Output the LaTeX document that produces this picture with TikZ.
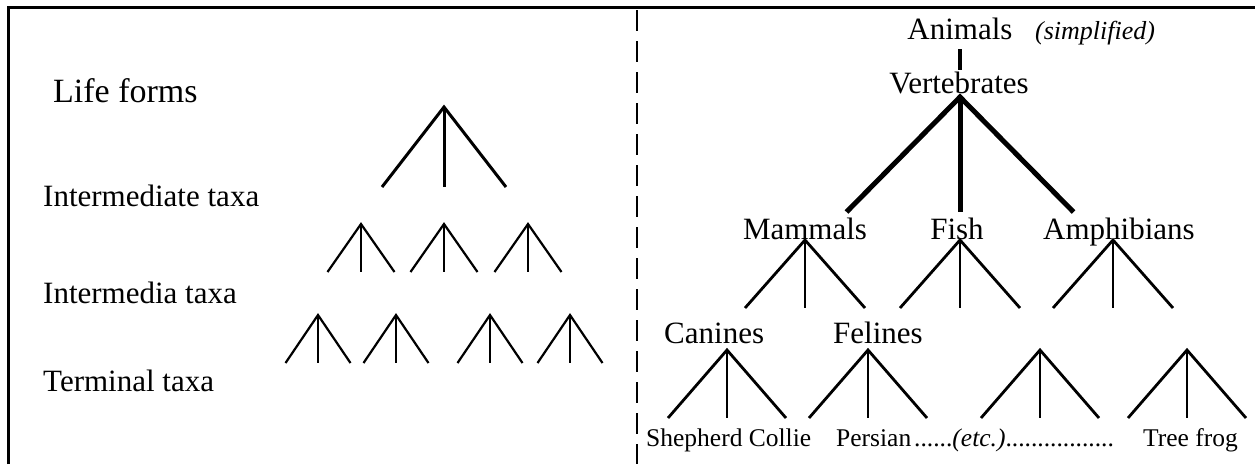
\documentclass[tikz,border=0pt]{standalone}
\usepackage{fontspec}
\setmainfont{Liberation Serif}

% A three-pronged branch: legs from an apex down to two feet, plus a stem.
% #1 name, #2 apex x, #3 apex y, #4 half width, #5 height, #6 leg style, #7 stem style
\newcommand\taxtree[7]{%
  \coordinate (#1-a) at (#2,#3);
  \coordinate (#1-l) at ({#2-#4},{#3+#5});
  \coordinate (#1-m) at (#2,{#3+#5});
  \coordinate (#1-r) at ({#2+#4},{#3+#5});
  \draw[#6] (#1-l) -- (#1-a) -- (#1-r);
  \draw[#7] (#1-a) -- (#1-m);
}

\begin{document}
\begin{tikzpicture}[x=1pt,y=-1pt,
  lbl/.style={inner sep=0pt, anchor=base west, font=\fontsize{31}{31}\selectfont},
  clbl/.style={lbl, anchor=base},
  big/.style={lbl, font=\fontsize{34}{34}\selectfont},
  small/.style={lbl, font=\fontsize{25.5}{25.5}\selectfont},
  legA/.style={line width=3pt},
  legB/.style={line width=2.2pt},
  stemB/.style={line width=1.3pt},
  legC/.style={line width=2.8pt},
  stemC/.style={line width=1.8pt},
  thick/.style={line width=5pt},
]
\useasboundingbox (0,0) rectangle (1255,464);

% frame and divider
\draw[line width=3pt] (8,464) -- (8,7) -- (1255,7);
\draw[line width=2.4pt, dash pattern=on 21pt off 10pt] (637,10) -- (637,464);

% ---- left: generic scheme ----
\node[big] (life) at (53,102) {Life forms};
\node[lbl] (inter) at (43,206) {Intermediate taxa};
\node[lbl] (interm) at (43,303) {Intermedia taxa};
\node[lbl] (term) at (43,391) {Terminal taxa};

\taxtree{top}{444}{107}{62}{80}{legA}{legA}
\taxtree{ia}{361}{224}{33.5}{48}{legB}{stemB}
\taxtree{ib}{444}{224}{33.5}{48}{legB}{stemB}
\taxtree{ic}{528}{224}{33.5}{48}{legB}{stemB}
\taxtree{ta}{318}{315}{32.5}{48}{legB}{stemB}
\taxtree{tb}{396}{315}{32.5}{48}{legB}{stemB}
\taxtree{tc}{490}{315}{32.5}{48}{legB}{stemB}
\taxtree{td}{570}{315}{32.5}{48}{legB}{stemB}

% ---- right: animal example ----
\node[clbl] (animals) at (960,39) {Animals};
\node[lbl, font=\fontsize{26}{26}\selectfont\itshape] (simpl) at (1035,39) {(simplified)};
\node[clbl] (vert) at (959,93) {Vertebrates};
\coordinate (av-top) at (960,49);
\coordinate (av-bot) at (960,70);
\draw[line width=4.5pt] (av-top) -- (av-bot);

\taxtree{vt}{960}{97}{113.5}{115}{thick}{thick}

\node[clbl] (mamm) at (805,239) {Mammals};
\node[clbl] (fish) at (957,239) {Fish};
\node[clbl] (amph) at (1119,239) {Amphibians};

\taxtree{ma}{805}{240}{60}{68}{legC}{stemC}
\taxtree{fi}{960}{240}{60}{68}{legC}{stemC}
\taxtree{am}{1113}{240}{60}{68}{legC}{stemC}

\node[lbl] (canines) at (664,343) {Canines};
\node[lbl] (felines) at (833,343) {Felines};

\taxtree{ca}{727}{350}{59}{68}{legC}{stemC}
\taxtree{fe}{868}{350}{59}{68}{legC}{stemC}
\taxtree{xa}{1040}{350}{59}{68}{legC}{stemC}
\taxtree{xb}{1187}{350}{59}{68}{legC}{stemC}

\node[small] (shep) at (646,446) {Shepherd Collie};
\node[small] (pers) at (836,446) {Persian};
\node[small] (etc) at (914,446) {......\textit{(etc.)}.................};
\node[small] (frog) at (1143,446) {Tree frog};
\end{tikzpicture}
\end{document}
